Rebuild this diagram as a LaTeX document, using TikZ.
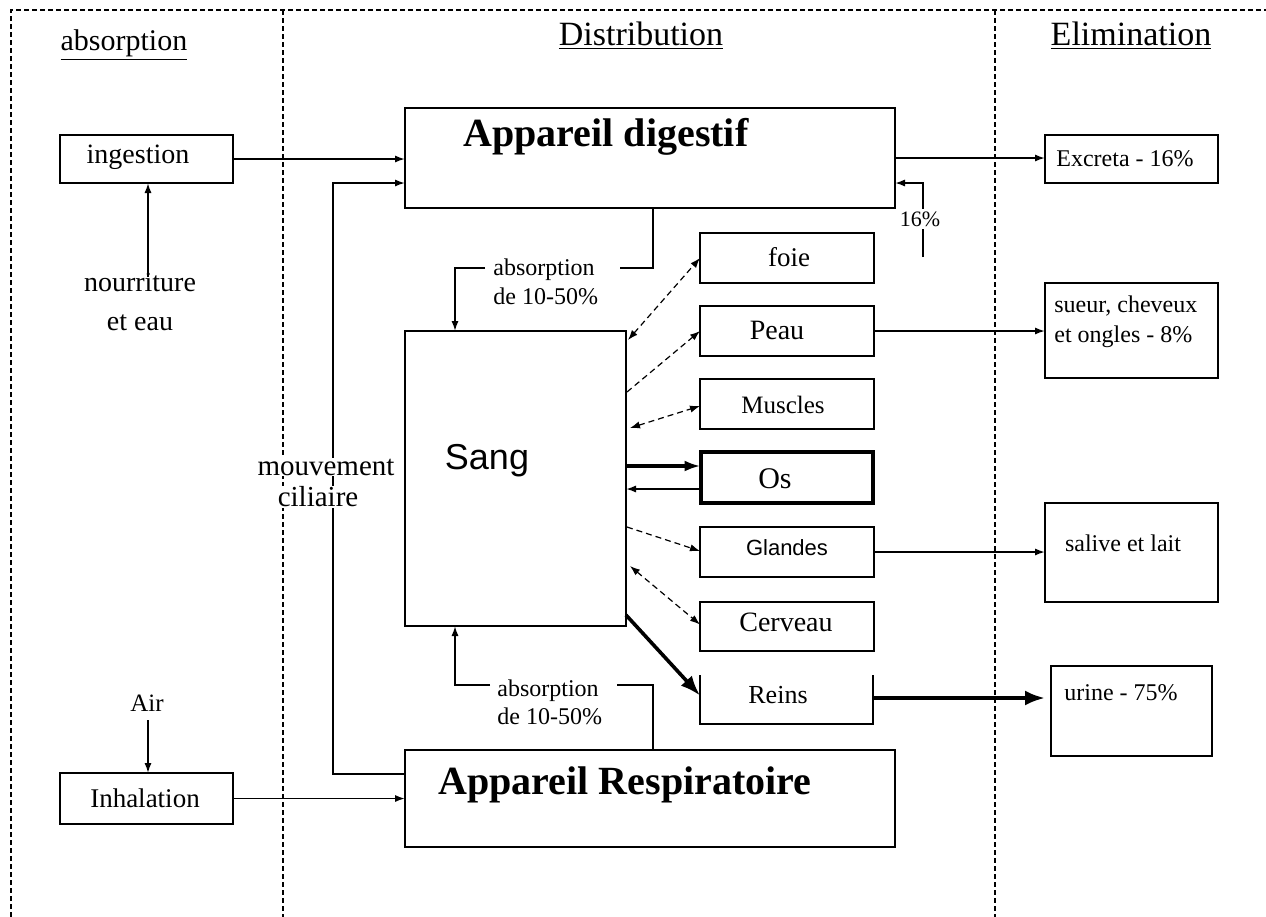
\documentclass[tikz,border=0pt]{standalone}
\usepackage{fontspec}
\setmainfont{Liberation Serif}
\newfontfamily\arialf{Liberation Sans}
\usetikzlibrary{arrows.meta,calc}
\newcommand\fsz[2]{\fontsize{#1}{#2}\selectfont}
\begin{document}
\begin{tikzpicture}[x=0.5pt,y=-0.5pt,
 box/.style={draw, line width=1pt, inner sep=0pt, outer sep=0pt},
 txt/.style={inner sep=1pt},
 arr/.style={line width=0.9pt, -{Latex[length=5pt,width=3.6pt]}},
 plain/.style={line width=0.9pt},
 dasharr/.style={line width=0.6pt, densely dashed, -{Latex[length=5pt,width=3.6pt]}},
 dasharrb/.style={line width=0.6pt, densely dashed, {Latex[length=5pt,width=3.6pt]}-{Latex[length=5pt,width=3.6pt]}},
 thickarr/.style={line width=1.8pt, -{Latex[length=10pt,width=7.5pt]}},
 sep/.style={line width=0.8pt, dash pattern=on 2.5pt off 1.5pt},
]
\useasboundingbox (0,0) rectangle (1266,917);
\fill[white] (0,0) rectangle (1266,917);

% frame and column separators
\draw[sep] (11,917) -- (11,10) -- (1266,10);
\draw[sep] (283,10) -- (283,917);
\draw[sep] (995,10) -- (995,917);

% headers
\node[txt, font={\fsz{15}{18}}] (habs) at (124,45) {\underline{absorption}};
\node[txt, font={\fsz{17}{20}}] (hdis) at (641,36) {\underline{Distribution}};
\node[txt, font={\fsz{17}{20}}] (helim) at (1131,36) {\underline{Elimination}};

% boxes
\node[box, minimum width=86.5pt, minimum height=24pt] (ingestion) at (146.5,159) {};
\node[box, minimum width=245pt, minimum height=50pt] (digestif) at (650,158) {};
\node[box, minimum width=86.5pt, minimum height=24pt] (excreta) at (1131.5,159) {};
\node[box, minimum width=87pt, minimum height=25pt] (foie) at (787,258) {};
\node[box, minimum width=87pt, minimum height=25pt] (peau) at (787,331) {};
\node[box, minimum width=87pt, minimum height=25pt] (muscles) at (787,404) {};
\node[box, line width=2pt, minimum width=86pt, minimum height=25.5pt] (os) at (786.5,477.5) {};
\node[box, minimum width=87pt, minimum height=25pt] (glandes) at (787,552) {};
\node[box, minimum width=87pt, minimum height=24.5pt] (cerveau) at (787,626.5) {};
\node[inner sep=0pt, outer sep=0pt, minimum width=86.5pt, minimum height=24.5pt] (reins) at (786.5,699.5) {};
\draw[line width=1pt] (reins.north west) -- (reins.south west) -- (reins.south east) -- (reins.north east);
\node[box, minimum width=110.5pt, minimum height=147.5pt] (sang) at (515.5,478.5) {};
\node[box, minimum width=245pt, minimum height=48.5pt] (resp) at (650,798.5) {};
\node[box, minimum width=86.5pt, minimum height=25.5pt] (inhal) at (146.5,798.5) {};
\node[box, minimum width=86.5pt, minimum height=47.5pt] (sueur) at (1131.5,330.5) {};
\node[box, minimum width=86.5pt, minimum height=49.5pt] (salive) at (1131.5,552.5) {};
\node[box, minimum width=80.5pt, minimum height=45pt] (urine) at (1131.5,711) {};

% texts in boxes
\node[txt, font={\fsz{20}{24}\bfseries}] (tdig) at (606,137) {Appareil digestif};
\node[txt, font={\fsz{20}{24}\bfseries}] (tresp) at (625,785) {Appareil Respiratoire};
\node[txt, font={\arialf\fsz{18}{22}}] (tsang) at (487,461) {Sang};
\node[txt, font={\fsz{14}{17}}] (ting) at (138,157) {ingestion};
\node[txt, font={\fsz{12}{14}}] (texc) at (1125,159) {Excreta - 16\%};
\node[txt, font={\fsz{13.5}{16}}] (tfoie) at (789,257) {foie};
\node[txt, font={\fsz{14}{17}}] (tpeau) at (777,330) {Peau};
\node[txt, font={\fsz{12.5}{15}}] (tmus) at (783,405) {Muscles};
\node[txt, font={\fsz{15}{18}}] (tos) at (775,479) {Os};
\node[txt, font={\arialf\fsz{11}{13}}] (tgla) at (787,548) {Glandes};
\node[txt, font={\fsz{14}{17}}] (tcer) at (786,622) {Cerveau};
\node[txt, font={\fsz{13}{16}}] (trei) at (778,695) {Reins};
\node[txt, align=left, anchor=west, font={\fsz{12}{15}}] (tsue) at (1052,322) {sueur, cheveux\\ et ongles - 8\%};
\node[txt, font={\fsz{12}{14}}] (tsal) at (1123,543) {salive et lait};
\node[txt, font={\fsz{12}{14}}] (turi) at (1121,693) {urine - 75\%};
\node[txt, font={\fsz{13.5}{16}}] (tinh) at (145,798) {Inhalation};

% left column
\node[txt, align=center, font={\fsz{14}{19.5}}] (tnour) at (140,302) {nourriture\\ et eau};
\coordinate (nour1) at (148,277);
\draw[arr] (nour1) -- (nour1 |- ingestion.south);
\node[txt, font={\fsz{12.5}{15}}] (tair) at (147,703) {Air};
\coordinate (air1) at (148,720);
\draw[arr] (air1) -- (air1 |- inhal.north);

\draw[arr] (ingestion.east) -- (ingestion.east -| digestif.west);
\draw[arr] (inhal.east) -- (inhal.east -| resp.west);

% mouvement ciliaire
\coordinate (mc1) at (333,774);
\coordinate (mc2) at (333,183);
\draw[arr] (mc1 -| resp.west) -- (mc1) -- (mc2) -- (mc2 -| digestif.west);
\node[txt, fill=white, inner sep=0.5pt, font={\fsz{14.5}{17}}] (tmv) at (326,467) {mouvement};
\node[txt, fill=white, inner sep=0.5pt, font={\fsz{14.5}{17}}] (tcil) at (318,497) {ciliaire};

% excreta
\draw[arr] (digestif.east) -- (digestif.east -| excreta.west);
\coordinate (p16a) at (923,257);
\coordinate (p16b) at (923,183);
\draw[arr] (p16a) -- (p16b) -- (p16b -| digestif.east);
\node[txt, fill=white, inner sep=1.5pt, font={\fsz{11}{13}}] (t16) at (920,219) {16\%};

% absorption digestif -> sang
\coordinate (ad1) at (653,268);
\coordinate (ad2) at (620,268);
\coordinate (ad3) at (485,268);
\coordinate (ad4) at (455,268);
\draw[plain] (ad1 |- digestif.south) -- (ad1) -- (ad2);
\draw[arr] (ad3) -- (ad4) -- (ad4 |- sang.north);
\node[txt, align=left, anchor=west, font={\fsz{12}{14.5}}] (tabs1) at (491,282) {absorption\\ de 10-50\%};

% absorption resp -> sang
\coordinate (ar1) at (653,685);
\coordinate (ar2) at (617,685);
\coordinate (ar3) at (490,685);
\coordinate (ar4) at (455,685);
\draw[plain] (ar1 |- resp.north) -- (ar1) -- (ar2);
\draw[arr] (ar3) -- (ar4) -- (ar4 |- sang.south);
\node[txt, align=left, anchor=west, font={\fsz{12}{14}}] (tabs2) at (495,702) {absorption\\ de 10-50\%};

% sang <-> organs
\draw[dasharrb] ($(sang.north east)+(2,9)$) -- (foie.west);
\draw[dasharr] ($(sang.north east)+(1,61)$) -- (peau.west);
\draw[dasharrb] ($(sang.north east)+(4,97)$) -- ($(muscles.west)+(0,2)$);
\draw[line width=1.8pt, -{Latex[length=8pt,width=5.5pt]}] ($(sang.north east)+(0,135)$) -- ($(os.west)+(0,-11.5)$);
\draw[arr] ($(os.west)+(0,11.5)$) -- ($(sang.north east)+(0,158)$);
\draw[dasharr] ($(sang.north east)+(1,196)$) -- ($(glandes.west)+(0,-1)$);
\draw[dasharrb] ($(sang.north east)+(4,235)$) -- ($(cerveau.west)+(0,-2)$);
\draw[thickarr] ($(sang.north east)+(0,284)$) -- ($(reins.west)+(0,-4)$);

% organs -> elimination
\draw[arr] (peau.east) -- (peau.east -| sueur.west);
\draw[arr] (glandes.east) -- (glandes.east -| salive.west);
\draw[thickarr] ($(reins.east)+(0,-1.5)$) -- ($(reins.east -| urine.west)+(-6,-1.5)$);
\end{tikzpicture}
\end{document}
